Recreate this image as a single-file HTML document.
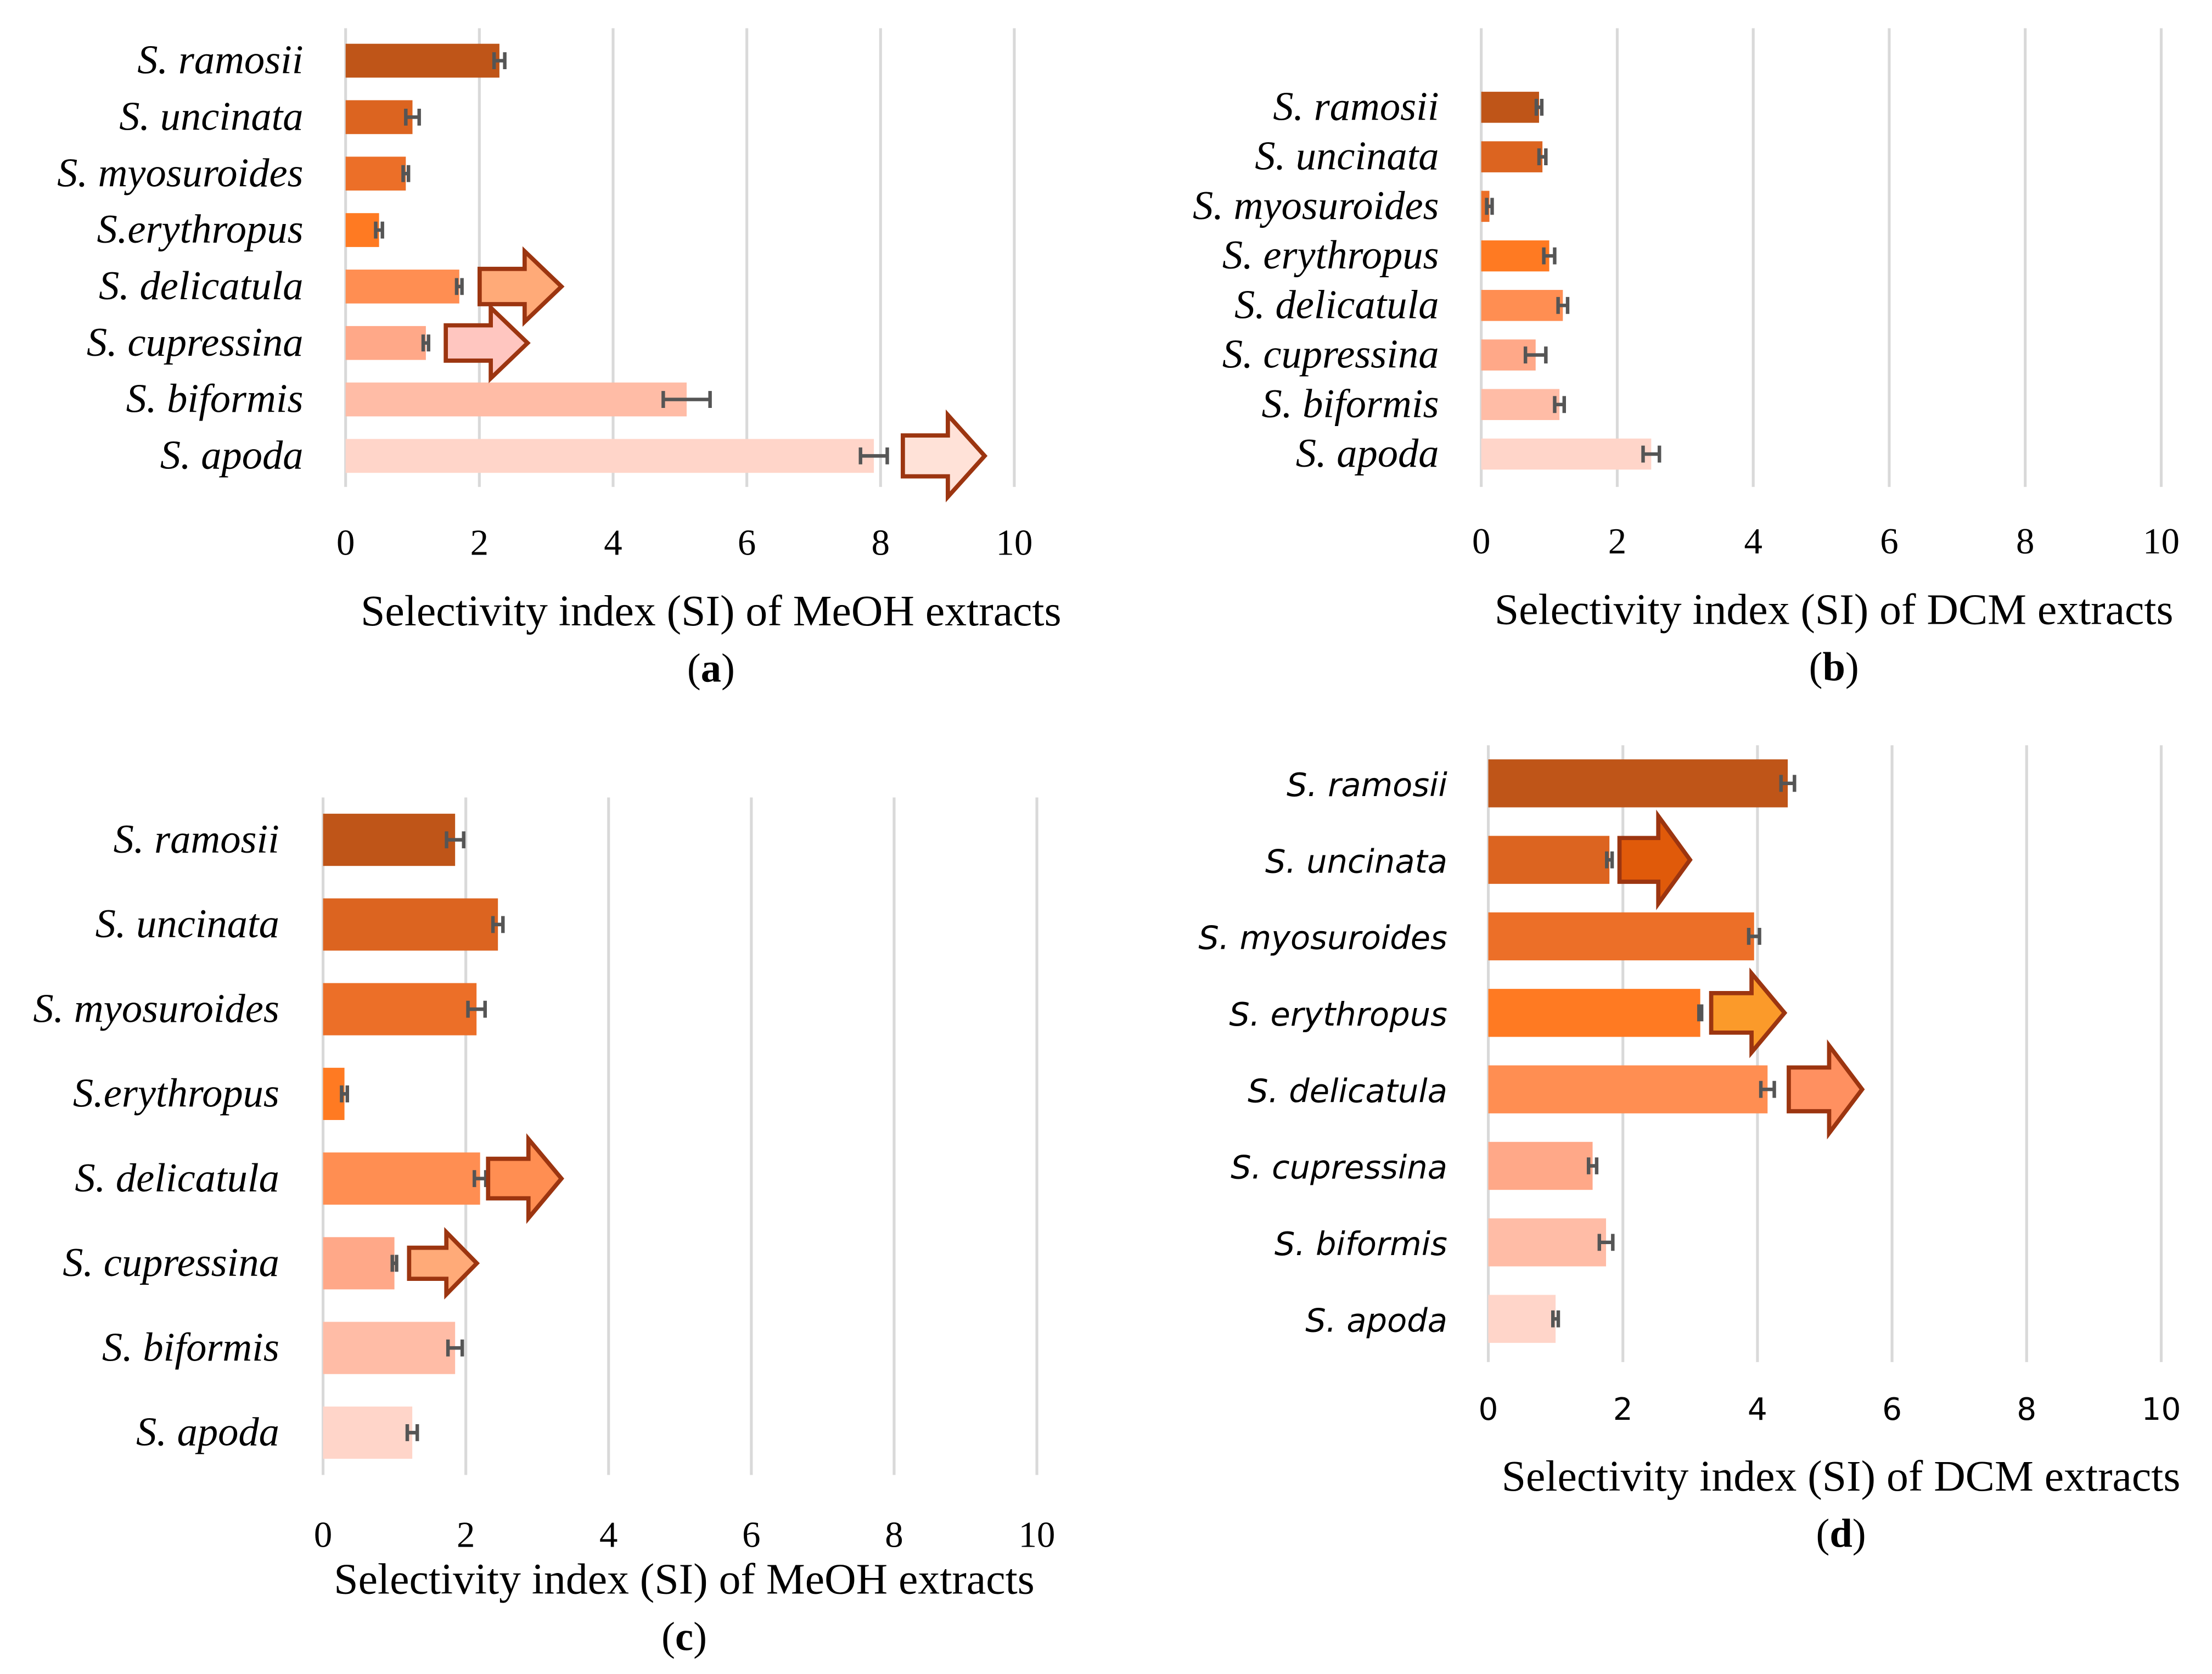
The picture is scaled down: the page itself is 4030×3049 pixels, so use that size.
<!DOCTYPE html>
<html><head><meta charset="utf-8"><style>
html,body{margin:0;padding:0;background:#fff;}
svg{display:block;}
</style></head><body>
<svg id="chart" width="4030" height="3049" viewBox="0 0 1568 1186" preserveAspectRatio="none" xmlns="http://www.w3.org/2000/svg"></svg>
<script>
const speciesA = ["S. ramosii","S. uncinata","S. myosuroides","S.erythropus","S. delicatula","S. cupressina","S. biformis","S. apoda"];
const speciesB = ["S. ramosii","S. uncinata","S. myosuroides","S. erythropus","S. delicatula","S. cupressina","S. biformis","S. apoda"];
const speciesC = ["S. ramosii","S. uncinata","S. myosuroides","S.erythropus","S. delicatula","S. cupressina","S. biformis","S. apoda"];
const speciesD = ["S. ramosii","S. uncinata","S. myosuroides","S. erythropus","S. delicatula","S. cupressina","S. biformis","S. apoda"];
const valuesA = [2.3,1.0,0.9,0.5,1.7,1.2,5.1,7.9];
const errorsA = [0.08,0.1,0.04,0.05,0.04,0.04,0.35,0.2];
const valuesB = [0.85,0.9,0.12,1.0,1.2,0.8,1.15,2.5];
const errorsB = [0.04,0.05,0.04,0.08,0.07,0.15,0.07,0.12];
const valuesC = [1.85,2.45,2.15,0.3,2.2,1.0,1.85,1.25];
const errorsC = [0.12,0.07,0.12,0.04,0.08,0.03,0.1,0.07];
const valuesD = [4.45,1.8,3.95,3.15,4.15,1.55,1.75,1.0];
const errorsD = [0.1,0.04,0.08,0.02,0.1,0.06,0.1,0.04];
const ticks = [0,2,4,6,8,10];
const colors = ["#bf5518","#dc6420","#ec6f28","#ff7a22","#ff8e52","#ffa888","#ffbca6","#ffd5c9"];
const NS="http://www.w3.org/2000/svg";
const svg=document.getElementById('chart');
function el(t,a,p){const e=document.createElementNS(NS,t);for(const k in a)e.setAttribute(k,a[k]);(p||svg).appendChild(e);return e;}

function panel(cfg){
  const g=el('g',{});
  
  
  const sx=v=>cfg.x0+(cfg.x10-cfg.x0)*v/10;
  ticks.forEach(t=>{
    const gl=el('line',{x1:sx(t),x2:sx(t),y1:cfg.gTop,y2:cfg.gBot,stroke:'#d9d9d9','stroke-width':2},g);
    
    
    const tl=el('text',{x:sx(t),y:cfg.tickY,'text-anchor':'middle','font-size':cfg.tfs,'font-family':cfg.font,fill:'#000'},g);
    tl.textContent=t;
    
    
  });
  cfg.cats.forEach((c,i)=>{
    const cy=cfg.y0+i*cfg.dy;
    const lb=el('text',{x:cfg.labelX,y:cy+9,'text-anchor':'end','font-size':cfg.fs,'font-style':'italic','font-family':cfg.font,fill:'#000'},g);
    lb.textContent=c;
    
    
    const b=el('rect',{x:sx(0),y:cy-cfg.bh/2,width:sx(cfg.vals[i])-sx(0),height:cfg.bh,fill:colors[i]},g);
    
    
    const e1=sx(cfg.vals[i]-cfg.errs[i]),e2=sx(cfg.vals[i]+cfg.errs[i]);
    const eg=el('path',{d:`M${e1},${cy}H${e2}M${e1},${cy-6}V${cy+6}M${e2},${cy-6}V${cy+6}`,stroke:'#555','stroke-width':2.5,fill:'none'},g);
    
    
  });
  cfg.arrows.forEach(a=>{
    const cy=cfg.y0+a.i*cfg.dy;
    const x1=a.x1,x2=a.x2,h=a.h,hw=(x2-x1)*0.45,bh=h*0.5;
    const d=`M${x1},${cy-bh/2}H${x2-hw}V${cy-h/2}L${x2},${cy}L${x2-hw},${cy+h/2}V${cy+bh/2}H${x1}Z`;
    const ar=el('path',{d,fill:a.fill,stroke:'#9c3510','stroke-width':3,'stroke-linejoin':'miter'},g);
    
    
  });
  const tt=el('text',{x:cfg.titleX,y:cfg.titleY,'text-anchor':'middle','font-size':31,'font-family':'Liberation Serif, serif',fill:'#000'},g);
  tt.textContent=cfg.title;
  
  
  const pl=el('text',{x:cfg.titleX,y:cfg.titleY+40,'text-anchor':'middle','font-size':29,'font-family':'Liberation Serif, serif',fill:'#000'},g);
  pl.innerHTML='(<tspan font-weight="bold">'+cfg.letter+'</tspan>)';
  
  
}
const serif='Liberation Serif, serif', sans='DejaVu Sans, Liberation Sans, sans-serif';
panel({name:'panel-a',cats:speciesA,vals:valuesA,errs:errorsA,x0:245,x10:719,y0:43,dy:40,bh:24,gTop:20,gBot:345,tickY:393,labelX:215,fs:29,tfs:26,font:serif,
  title:'Selectivity index (SI) of MeOH extracts',titleX:504,titleY:443,letter:'a',
  arrows:[{i:4,x1:340,x2:398,h:50,fill:'#ffaa78'},{i:5,x1:316,x2:374,h:50,fill:'#ffc6c0'},{i:7,x1:640,x2:698,h:58,fill:'#ffe2d8'}]});
panel({name:'panel-b',cats:speciesB,vals:valuesB,errs:errorsB,x0:1050,x10:1532,y0:76,dy:35.1,bh:22,gTop:20,gBot:345,tickY:392,labelX:1020,fs:29,tfs:26,font:serif,
  title:'Selectivity index (SI) of DCM extracts',titleX:1300,titleY:442,letter:'b',arrows:[]});
panel({name:'panel-c',cats:speciesC,vals:valuesC,errs:errorsC,x0:229,x10:735,y0:595,dy:60,bh:37,gTop:565,gBot:1045,tickY:1096,labelX:198,fs:29,tfs:26,font:serif,
  title:'Selectivity index (SI) of MeOH extracts',titleX:485,titleY:1129,letter:'c',
  arrows:[{i:4,x1:346,x2:398,h:56,fill:'#ff8e52'},{i:5,x1:290,x2:338,h:44,fill:'#ffaa78'}]});
panel({name:'panel-d',cats:speciesD,vals:valuesD,errs:errorsD,x0:1055,x10:1532,y0:555,dy:54.2,bh:34,gTop:528,gBot:965,tickY:1006,labelX:1026,fs:23,tfs:22,font:sans,
  title:'Selectivity index (SI) of DCM extracts',titleX:1305,titleY:1056,letter:'d',
  arrows:[{i:1,x1:1148,x2:1198,h:62,fill:'#e05a0a'},{i:3,x1:1213,x2:1265,h:56,fill:'#fb9a2a'},{i:4,x1:1268,x2:1320,h:62,fill:'#ff9060'}]});
</script>
</body></html>
